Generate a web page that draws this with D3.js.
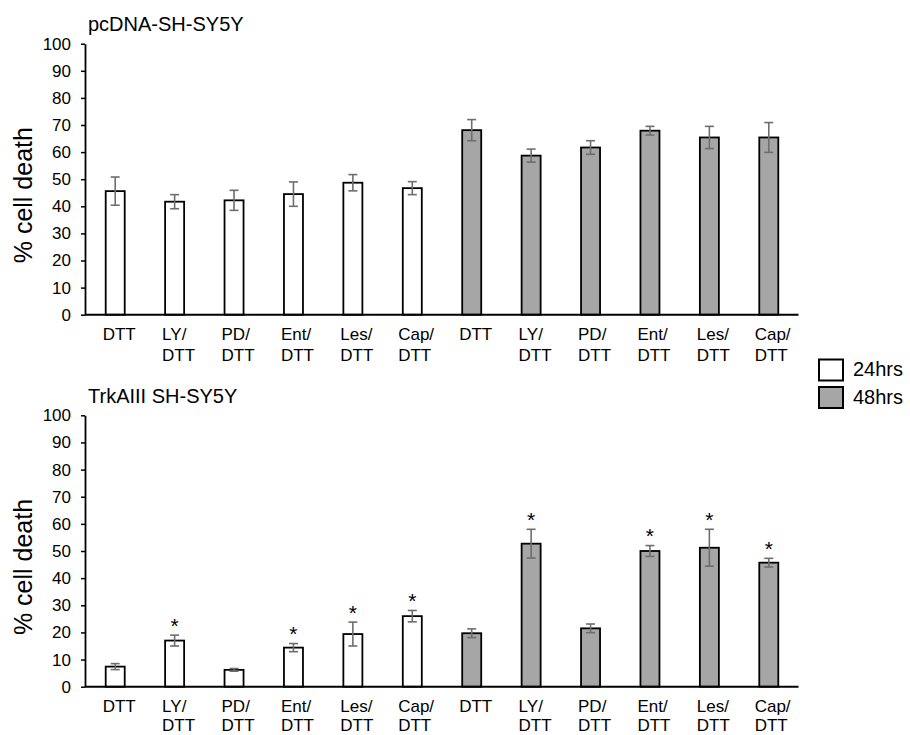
<!DOCTYPE html>
<html>
<head>
<meta charset="UTF-8">
<title>% cell death</title>
<script src="https://d3js.org/d3.v7.min.js"></script>
<style>
    body { margin: 0; background: #fff; }
    svg { font-family: "Liberation Sans", Arial, sans-serif; }
    .yaxis text { font-size: 17px; fill: #000; }
    .cat { font-size: 17px; fill: #000; }
    .title { font-size: 20px; fill: #000; }
    .ylabel { font-size: 25px; fill: #000; }
    .legend text { font-size: 20px; fill: #000; }
</style>
</head>
<body>
<div id="chart"></div>
<script>

// treatments, repeated for the 24hrs and 48hrs groups
const treatments = ["DTT", "LY/DTT", "PD/DTT", "Ent/DTT", "Les/DTT", "Cap/DTT"];
const groups = ["24hrs", "48hrs"];
const yTicks = [0, 10, 20, 30, 40, 50, 60, 70, 80, 90, 100];

// pcDNA-SH-SY5Y
const pcMean24 = [45.6, 41.7, 42.2, 44.5, 48.7, 46.7];
const pcErr24  = [5.2, 2.6, 3.7, 4.5, 3.0, 2.4];
const pcMean48 = [68.1, 58.7, 61.7, 67.9, 65.4, 65.4];
const pcErr48  = [3.9, 2.4, 2.5, 1.6, 4.1, 5.5];

// TrkAIII SH-SY5Y
const trkMean24 = [7.4, 17.0, 6.2, 14.4, 19.4, 26.0];
const trkErr24  = [1.1, 2.0, 0.5, 1.5, 4.4, 2.1];
const trkMean48 = [19.7, 52.7, 21.5, 50.0, 51.2, 45.7];
const trkErr48  = [1.6, 5.3, 1.6, 2.0, 6.8, 1.6];
const trkSig24  = [false, true, false, true, true, true];
const trkSig48  = [false, true, false, true, true, true];

const fills = { "24hrs": "#ffffff", "48hrs": "#a6a6a6" };

const W = 910, H = 735;
const svg = d3.select("#chart").append("svg")
    .attr("width", W).attr("height", H);

function buildRows(m24, e24, m48, e48, s24, s48) {
    const rows = [];
    groups.forEach((g, gi) => {
        const m = gi === 0 ? m24 : m48, e = gi === 0 ? e24 : e48;
        const s = gi === 0 ? s24 : s48;
        treatments.forEach((t, i) => rows.push({
            key: g + "|" + t, group: g, label: t,
            value: m[i], err: e[i], sig: s ? s[i] : false
        }));
    });
    return rows;
}

const x = d3.scaleBand()
    .domain(groups.flatMap(g => treatments.map(t => g + "|" + t)))
    .range([85.5, 798.5])
    .paddingInner(0.68)
    .paddingOuter(0.34);

function panel(rows, title, top, bottom) {
    const y = d3.scaleLinear().domain([0, 100]).range([bottom, top]);
    const g = svg.append("g");

    g.append("text").attr("class", "title")
        .attr("x", 88).attr("y", top - 12.5)
        .text(title);

    g.append("text").attr("class", "ylabel")
        .attr("transform", `translate(32,${(top + bottom) / 2 + 16}) rotate(-90)`)
        .attr("text-anchor", "middle")
        .text("% cell death");

    const yAxis = g.append("g")
        .attr("class", "yaxis")
        .attr("transform", "translate(85,0)")
        .call(d3.axisLeft(y).tickValues(yTicks).tickSize(4).tickSizeOuter(0).tickPadding(10));
    yAxis.attr("font-family", null).attr("font-size", null);
    yAxis.select(".domain").attr("stroke", "#000").attr("stroke-width", 1.8);
    yAxis.selectAll(".tick line").attr("stroke", "#000").attr("stroke-width", 1.5);

    // bars
    g.selectAll("rect.bar").data(rows).join("rect")
        .attr("class", "bar")
        .attr("x", d => x(d.key))
        .attr("width", x.bandwidth())
        .attr("y", d => y(d.value))
        .attr("height", d => y(0) - y(d.value))
        .attr("fill", d => fills[d.group])
        .attr("stroke", "#000")
        .attr("stroke-width", 1.8);

    // error bars
    const eb = g.selectAll("g.err").data(rows).join("g")
        .attr("class", "err")
        .attr("stroke", "#6e6e6e")
        .attr("stroke-width", 1.6);
    const cx = d => x(d.key) + x.bandwidth() / 2;
    eb.append("line")
        .attr("x1", cx).attr("x2", cx)
        .attr("y1", d => y(d.value + d.err)).attr("y2", d => y(d.value - d.err));
    [1, -1].forEach(sgn => {
        eb.append("line")
            .attr("x1", d => cx(d) - 4.5).attr("x2", d => cx(d) + 4.5)
            .attr("y1", d => y(d.value + sgn * d.err)).attr("y2", d => y(d.value + sgn * d.err));
    });

    // significance marks
    g.selectAll("text.sig").data(rows.filter(d => d.sig)).join("text")
        .attr("class", "sig")
        .attr("x", cx)
        .attr("y", d => y(d.value + d.err) - 2.5)
        .attr("text-anchor", "middle")
        .attr("font-size", 21)
        .text("*");

    // x axis line
    g.append("line")
        .attr("x1", 85).attr("x2", x.range()[1])
        .attr("y1", y(0)).attr("y2", y(0))
        .attr("stroke", "#000").attr("stroke-width", 2);

    // category labels, two lines left aligned, block centred under bar
    rows.forEach(d => {
        const parts = d.label.includes("/") ? [d.label.split("/")[0] + "/", d.label.split("/")[1]] : [d.label];
        const t = g.append("text").attr("class", "cat");
        parts.forEach((p, i) => {
            t.append("tspan").attr("x", 0)
                .attr("y", Math.min(y(0) + 25.5 + i * 20.5, H - 4))
                .text(p);
        });
        const w = t.node().getBBox().width;
        t.selectAll("tspan").attr("x", cx(d) + 4 - w / 2);
    });
}

panel(buildRows(pcMean24, pcErr24, pcMean48, pcErr48), "pcDNA-SH-SY5Y", 43.7, 314.7);
panel(buildRows(trkMean24, trkErr24, trkMean48, trkErr48, trkSig24, trkSig48), "TrkAIII SH-SY5Y", 415.3, 686.7);

// legend
const legend = svg.append("g").attr("class", "legend");
groups.forEach((gname, i) => {
    legend.append("rect")
        .attr("x", 819).attr("y", 359.5 + i * 27.5)
        .attr("width", 24).attr("height", 21)
        .attr("fill", fills[gname])
        .attr("stroke", "#000").attr("stroke-width", 2);
    legend.append("text")
        .attr("x", 853).attr("y", 376 + i * 28)
        .text(gname);
});
</script>
</body>
</html>
